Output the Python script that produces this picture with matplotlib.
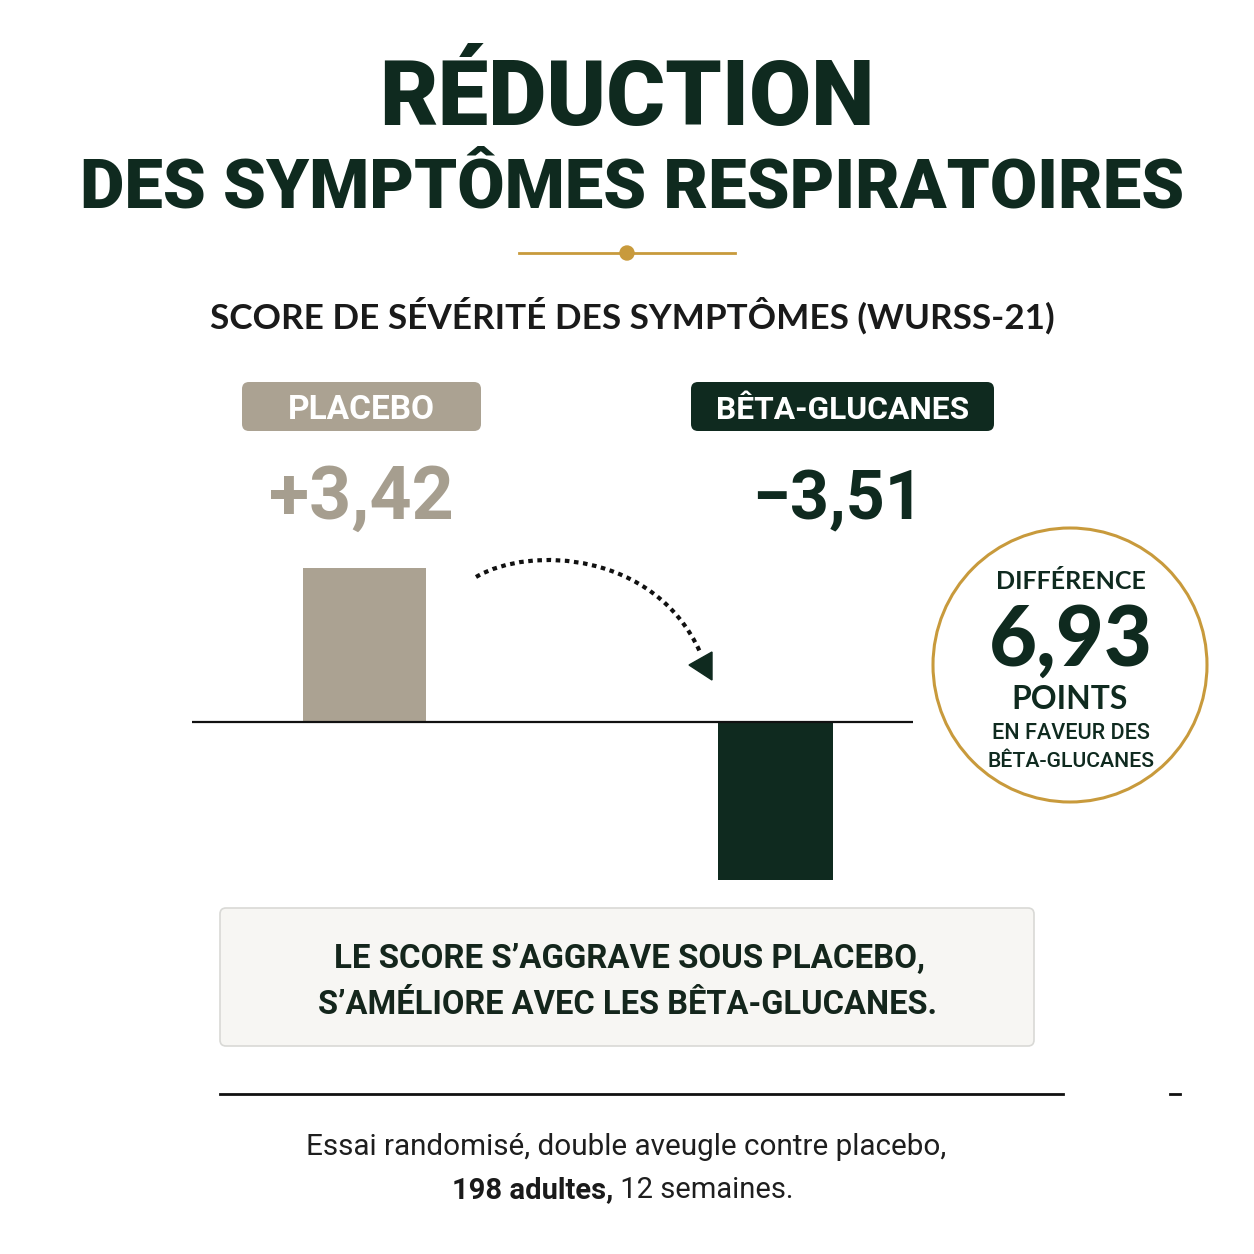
import matplotlib
matplotlib.use("Agg")
import matplotlib.pyplot as plt
from matplotlib.patches import FancyBboxPatch, Circle, Polygon, PathPatch
from matplotlib.path import Path
import numpy as np

# ---------------- data ----------------
groups = ["PLACEBO", "BÊTA-GLUCANES"]
changes = [3.42, -3.51]
group_colors = ["#aba292", "#0f2a1f"]
title_lines = ["RÉDUCTION", "DES SYMPTÔMES RESPIRATOIRES"]
subtitle = "SCORE DE SÉVÉRITÉ DES SYMPTÔMES (WURSS-21)"
diff_labels = ["DIFFÉRENCE", "POINTS", "EN FAVEUR DES", "BÊTA-GLUCANES"]
message_lines = ["LE SCORE S’AGGRAVE SOUS PLACEBO,",
                 "S’AMÉLIORE AVEC LES BÊTA-GLUCANES."]
footer_line1 = "Essai randomisé, double aveugle contre placebo,"
footer_bold = "198 adultes,"
footer_rest = " 12 semaines."

DARK = "#0f2a1f"
GOLD = "#c89a3c"
W = H = 1254

fig = plt.figure(figsize=(12.54, 12.54), dpi=100)
fig.patch.set_facecolor("white")
ov = fig.add_axes([0, 0, 1, 1])
ov.set_xlim(0, W)
ov.set_ylim(H, 0)
ov.axis("off")
renderer = fig.canvas.get_renderer()


def px_axes(l, t, r, b):
    return [l / W, 1 - b / H, (r - l) / W, (b - t) / H]


def fit(text, cx, y, width, size, **kw):
    t = ov.text(cx, y, text, ha="center", va="baseline", fontsize=size, **kw)
    w = t.get_window_extent(renderer).width
    if w > width:
        t.set_fontsize(size * width / w)
    return t


# ---------------- title ----------------
fit(title_lines[0], 627, 125, 495, 72, family="Roboto", weight="black", color=DARK)
fit(title_lines[1], 632, 208, 1105, 60, family="Roboto", weight="black", color=DARK)
ov.plot([519, 735], [253, 253], color=GOLD, lw=2)
ov.add_patch(Circle((627, 253), 7, color=GOLD, zorder=3))
fit(subtitle, 632, 329, 845, 26, family="Lato", weight="bold", color="#1a1a1a")

# ---------------- bars ----------------
ax = fig.add_axes(px_axes(192, 530, 913, 900))
ax.patch.set_alpha(0)
x = np.arange(len(groups))
ax.bar(x, changes, width=[0.30, 0.28], color=group_colors, zorder=2)
ax.axhline(0, color="#111111", lw=1.6, zorder=3)
ax.set_xlim(-0.42, 1.335)
ax.set_ylim(-(900 - 722) / 45, (722 - 530) / 45)
ax.axis("off")

# group labels and values
label_boxes = [(242, 481), (691, 994)]
value_colors = ["#a69e8f", DARK]
for g, v, c, vc, (l, r) in zip(groups, changes, group_colors, value_colors, label_boxes):
    ov.add_patch(FancyBboxPatch((l, 382), r - l, 49,
                                boxstyle="round,pad=0,rounding_size=7",
                                fc=c, ec="none"))
    cx = (l + r) / 2
    fit(g, cx, 419, (r - l) - 50, 24, family="Roboto", weight="bold", color="white")
    s = f"{v:+.2f}".replace(".", ",").replace("-", "−")
    vx = 361 if v > 0 else 838
    fit(s, vx, 519, 185 if v > 0 else 172, 56, family="Roboto", weight="bold", color=vc)

# dotted arrow
verts = [(476, 577), (530, 545), (655, 552), (700, 652)]
arc = PathPatch(Path(verts, [Path.MOVETO, Path.CURVE4, Path.CURVE4, Path.CURVE4]),
                fc="none", ec="#111111", lw=3.0, linestyle=(0, (1.1, 1.1)),
                capstyle="butt")
ov.add_patch(arc)
ov.add_patch(Polygon([(689, 665), (712, 652), (712, 680)], closed=True,
                     fc=DARK, ec=DARK))

# difference circle
ov.add_patch(Circle((1070, 665), 137, fc="white", ec=GOLD, lw=2.2, zorder=4))
diff = changes[0] - changes[1]
fit(diff_labels[0], 1071, 589, 150, 20, family="Lato", weight="bold", color=DARK, zorder=5)
fit(f"{diff:.2f}".replace(".", ","), 1071, 666, 164, 62, family="Lato", weight="black",
    color=DARK, zorder=5)
fit(diff_labels[1], 1070, 709, 116, 26, family="Lato", weight="bold", color=DARK, zorder=5)
fit(diff_labels[2], 1071, 739, 158, 17, family="Roboto", weight="medium", color=DARK, zorder=5)
fit(diff_labels[3], 1071, 767, 168, 17, family="Roboto", weight="medium", color=DARK, zorder=5)

# message box
ov.add_patch(FancyBboxPatch((220, 908), 814, 138,
                            boxstyle="round,pad=0,rounding_size=6",
                            fc="#f7f6f3", ec="#d9d9d6", lw=1.2))
fit(message_lines[0], 630, 968, 591, 24, family="Roboto", weight="bold", color="#14261c")
fit(message_lines[1], 627, 1014, 618, 24, family="Roboto", weight="bold", color="#14261c")

# separator
ov.plot([220, 1063], [1094, 1094], color="#111111", lw=2)
ov.plot([1170, 1180], [1094, 1094], color="#111111", lw=2)

# footer
fit(footer_line1, 626, 1155, 641, 23, family="Roboto", weight="normal", color="#1e1e1e")
t1 = ov.text(0, 1198, footer_bold, ha="left", va="baseline", fontsize=21,
             family="Roboto", weight="bold", color="#1a1a1a")
t2 = ov.text(0, 1198, footer_rest, ha="left", va="baseline", fontsize=21,
             family="Roboto", weight="normal", color="#1e1e1e")
w1 = t1.get_window_extent(renderer).width
w2 = t2.get_window_extent(renderer).width
start = 623 - (w1 + w2) / 2
t1.set_x(start)
t2.set_x(start + w1)

fig.savefig("out.png", dpi=100, facecolor="white")
